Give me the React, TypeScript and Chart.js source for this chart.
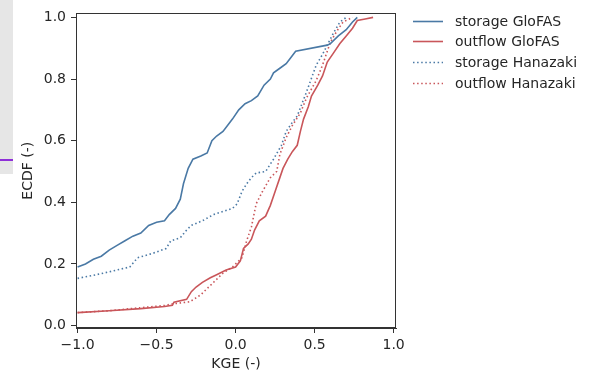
import React, { useEffect, useRef } from "react";
import { Chart, registerables } from "chart.js";

Chart.register(...registerables);

// [KGE, ECDF] pairs
const storageGloFAS: number[][] = [
  [-1.0, 0.19], [-0.95, 0.2], [-0.9, 0.215], [-0.85, 0.225], [-0.8, 0.245], [-0.75, 0.26],
  [-0.7, 0.275], [-0.65, 0.29], [-0.6, 0.3], [-0.55, 0.325], [-0.5, 0.335], [-0.45, 0.34],
  [-0.42, 0.36], [-0.38, 0.38], [-0.35, 0.41], [-0.33, 0.46], [-0.3, 0.51], [-0.27, 0.54],
  [-0.22, 0.55], [-0.18, 0.56], [-0.15, 0.6], [-0.12, 0.615], [-0.08, 0.63], [-0.05, 0.65],
  [-0.02, 0.67], [0.02, 0.7], [0.06, 0.72], [0.1, 0.73], [0.14, 0.745], [0.18, 0.78],
  [0.22, 0.8], [0.24, 0.82], [0.28, 0.835], [0.32, 0.85], [0.35, 0.87], [0.38, 0.89],
  [0.58, 0.91], [0.6, 0.915], [0.65, 0.94], [0.7, 0.96], [0.74, 0.985], [0.77, 1.0],
];

const outflowGloFAS: number[][] = [
  [-1.0, 0.042], [-0.8, 0.048], [-0.6, 0.055], [-0.45, 0.062], [-0.4, 0.066], [-0.39, 0.076],
  [-0.31, 0.085], [-0.28, 0.11], [-0.25, 0.125], [-0.21, 0.14], [-0.16, 0.155], [-0.12, 0.165],
  [-0.06, 0.18], [0.0, 0.19], [0.03, 0.21], [0.05, 0.25], [0.08, 0.265], [0.1, 0.28],
  [0.12, 0.31], [0.15, 0.34], [0.19, 0.355], [0.22, 0.39], [0.25, 0.435], [0.28, 0.48],
  [0.3, 0.51], [0.33, 0.54], [0.36, 0.565], [0.39, 0.585], [0.41, 0.63], [0.43, 0.67],
  [0.46, 0.71], [0.48, 0.745], [0.52, 0.78], [0.55, 0.81], [0.58, 0.855], [0.62, 0.885],
  [0.66, 0.915], [0.7, 0.94], [0.74, 0.965], [0.77, 0.99], [0.82, 0.995], [0.87, 1.0],
];

const storageHanazaki: number[][] = [
  [-1.0, 0.153], [-0.9, 0.163], [-0.81, 0.173], [-0.67, 0.19], [-0.62, 0.22], [-0.52, 0.235],
  [-0.44, 0.25], [-0.41, 0.275], [-0.35, 0.285], [-0.31, 0.31], [-0.28, 0.325], [-0.21, 0.34],
  [-0.14, 0.36], [-0.08, 0.37], [-0.02, 0.38], [0.01, 0.395], [0.04, 0.435], [0.07, 0.46],
  [0.1, 0.48], [0.13, 0.495], [0.19, 0.5], [0.24, 0.54], [0.29, 0.585], [0.32, 0.63],
  [0.36, 0.66], [0.39, 0.68], [0.42, 0.72], [0.45, 0.76], [0.51, 0.845], [0.55, 0.88],
  [0.58, 0.91], [0.62, 0.95], [0.66, 0.985], [0.7, 1.0],
];

const outflowHanazaki: number[][] = [
  [-1.0, 0.042], [-0.8, 0.048], [-0.6, 0.058], [-0.45, 0.065], [-0.4, 0.07], [-0.29, 0.077],
  [-0.25, 0.09], [-0.22, 0.1], [-0.16, 0.13], [-0.12, 0.15], [-0.08, 0.17], [-0.02, 0.19],
  [0.04, 0.22], [0.07, 0.275], [0.1, 0.32], [0.13, 0.395], [0.17, 0.435], [0.22, 0.48],
  [0.26, 0.5], [0.28, 0.555], [0.32, 0.61], [0.36, 0.65], [0.41, 0.69], [0.45, 0.74],
  [0.51, 0.795], [0.55, 0.845], [0.6, 0.92], [0.64, 0.955], [0.68, 0.985], [0.74, 1.0],
];

const seriesLabels = ["storage GloFAS", "outflow GloFAS", "storage Hanazaki", "outflow Hanazaki"];
const xTicks = [-1.0, -0.5, 0.0, 0.5, 1.0];
const xTickLabels = ["\u22121.0", "\u22120.5", "0.0", "0.5", "1.0"];
const yTicks = [0.0, 0.2, 0.4, 0.6, 0.8, 1.0];
const yTickLabels = ["0.0", "0.2", "0.4", "0.6", "0.8", "1.0"];

const BLUE = "#4a79a5";
const RED = "#c9565a";
const FONT = "'DejaVu Sans', sans-serif";
const TEXT = "#262626";

const boxAndLegend = {
  id: "boxAndLegend",
  afterDraw(chart: any) {
    const { ctx, chartArea } = chart;
    ctx.save();
    ctx.strokeStyle = "#333";
    ctx.lineWidth = 1;
    ctx.strokeRect(
      Math.round(chartArea.left) + 0.5,
      Math.round(chartArea.top) + 0.5,
      Math.round(chartArea.right - chartArea.left) - 1,
      Math.round(chartArea.bottom - chartArea.top) - 1
    );
    const rows = [21, 41, 62, 83];
    chart.data.datasets.forEach((ds: any, i: number) => {
      const y = rows[i];
      ctx.beginPath();
      ctx.strokeStyle = ds.borderColor;
      ctx.lineWidth = ds.borderWidth;
      ctx.setLineDash(ds.borderDash || []);
      ctx.moveTo(413, y + 0.5);
      ctx.lineTo(443, y + 0.5);
      ctx.stroke();
      ctx.setLineDash([]);
      ctx.fillStyle = TEXT;
      ctx.font = `14px ${FONT}`;
      ctx.textBaseline = "middle";
      ctx.textAlign = "left";
      ctx.fillText(ds.label, 455, y + 1);
    });
    ctx.restore();
  },
};

export default function App() {
  const ref = useRef<HTMLCanvasElement | null>(null);

  useEffect(() => {
    document.body.style.margin = "0";
    const toPts = (arr: number[][]) => arr.map(([x, y]) => ({ x, y }));
    const dotted = [1.5, 2.6];
    const chart = new Chart(ref.current as HTMLCanvasElement, {
      type: "line",
      data: {
        datasets: [
          { label: seriesLabels[0], data: toPts(storageGloFAS), borderColor: BLUE, borderWidth: 1.6 },
          { label: seriesLabels[1], data: toPts(outflowGloFAS), borderColor: RED, borderWidth: 1.6 },
          { label: seriesLabels[2], data: toPts(storageHanazaki), borderColor: BLUE, borderWidth: 1.6, borderDash: dotted },
          { label: seriesLabels[3], data: toPts(outflowHanazaki), borderColor: RED, borderWidth: 1.6, borderDash: dotted },
        ].map((d) => ({ ...d, pointRadius: 0, tension: 0, fill: false })),
      },
      options: {
        animation: false,
        responsive: false,
        events: [],
        layout: { padding: { left: 0, top: 10, right: 206, bottom: 0 } },
        plugins: { legend: { display: false }, tooltip: { enabled: false } },
        scales: {
          x: {
            type: "linear",
            min: -1.01,
            max: 1.015,
            afterFit: (s: any) => { s.height = 43; },
            afterBuildTicks: (s: any) => { s.ticks = xTicks.map((v) => ({ value: v })); },
            ticks: {
              callback: (_v: any, i: number) => xTickLabels[i],
              font: { family: FONT, size: 14 },
              color: TEXT,
              padding: 4,
              maxRotation: 0,
              autoSkip: false,
            },
            grid: { drawOnChartArea: false, tickLength: 5, color: "#333" },
            border: { display: true, color: "#333" },
            title: { display: true, text: "KGE (-)", font: { family: FONT, size: 14, lineHeight: 1 }, color: TEXT, padding: 0 },
          },
          y: {
            type: "linear",
            min: -0.008,
            max: 1.013,
            afterFit: (s: any) => { s.width = 76; },
            afterBuildTicks: (s: any) => { s.ticks = yTicks.map((v) => ({ value: v })); },
            ticks: {
              callback: (_v: any, i: number) => yTickLabels[i],
              font: { family: FONT, size: 14 },
              color: TEXT,
              padding: 5,
              autoSkip: false,
            },
            grid: { drawOnChartArea: false, tickLength: 5, color: "#333" },
            border: { display: true, color: "#333" },
            title: { display: true, text: "ECDF (-)", font: { family: FONT, size: 14, lineHeight: 1 }, color: TEXT, padding: { top: 21, bottom: 0 } },
          },
        },
      },
      plugins: [boxAndLegend],
    } as any);
    return () => chart.destroy();
  }, []);

  return (
    <div style={{ position: "relative", width: 602, height: 371, background: "#fff" }}>
      <div style={{ position: "absolute", left: 0, top: 0, width: 13, height: 174, background: "#e6e6e6" }} />
      <div style={{ position: "absolute", left: 0, top: 159, width: 13, height: 2, background: "#8f2fd8" }} />
      <canvas ref={ref} width={602} height={371} style={{ position: "absolute", left: 0, top: 0 }} />
    </div>
  );
}
